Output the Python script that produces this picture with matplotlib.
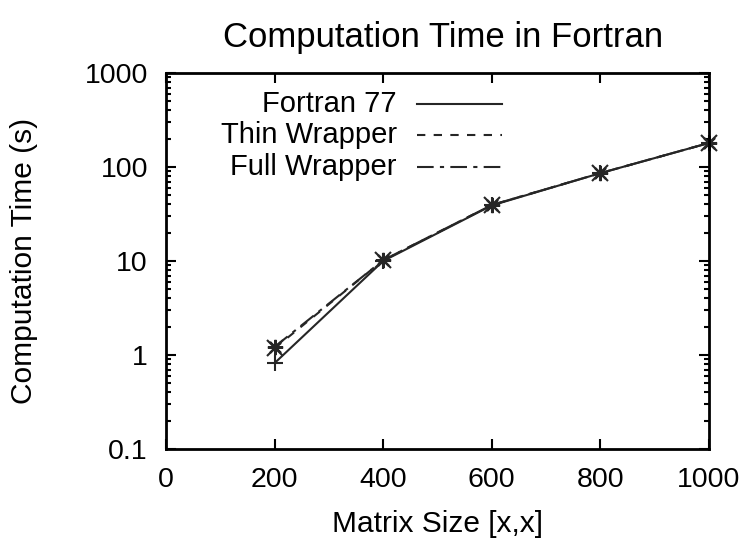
import matplotlib
matplotlib.use('Agg')
import matplotlib.pyplot as plt
from matplotlib.lines import Line2D
from matplotlib.ticker import LogLocator, FixedLocator, NullFormatter

plt.rcParams['font.family'] = ['Liberation Sans', 'DejaVu Sans']

# data
matrix_size = [200, 400, 600, 800, 1000]
fortran77 = [0.82, 10.0, 39.0, 86.0, 180.0]
thin_wrapper = [1.18, 10.2, 39.4, 86.0, 180.0]
full_wrapper = [1.22, 10.2, 39.4, 86.0, 180.0]

series_labels = ['Fortran 77', 'Thin Wrapper', 'Full Wrapper']
series_values = [fortran77, thin_wrapper, full_wrapper]
line_styles = ['-', (0, (4, 4)), (0, (8, 3, 2, 3))]
markers = ['+', 'x', (8, 2, 0)]

x_ticks = [0, 200, 400, 600, 800, 1000]
y_ticks = [0.1, 1, 10, 100, 1000]
y_tick_labels = ['0.1', '1', '10', '100', '1000']

line_color = '#262626'

fig = plt.figure(figsize=(7.4, 5.43), dpi=100)
ax = fig.add_axes([0.2243, 0.1731, 0.7338, 0.6925])

for vals, ls, mk in zip(series_values, line_styles, markers):
    ax.plot(matrix_size, vals, linestyle=ls, color=line_color, linewidth=1.5,
            marker=mk, markersize=11, markeredgewidth=1.5, clip_on=False)

ax.set_yscale('log')
ax.set_xlim(0, 1000)
ax.set_ylim(0.1, 1000)

ax.xaxis.set_major_locator(FixedLocator(x_ticks))
ax.set_xticklabels([str(t) for t in x_ticks])
ax.yaxis.set_major_locator(FixedLocator(y_ticks))
ax.set_yticklabels(y_tick_labels)
ax.yaxis.set_minor_locator(LogLocator(base=10, subs=range(2, 10)))
ax.yaxis.set_minor_formatter(NullFormatter())

ax.tick_params(which='both', direction='in', top=True, right=True, width=1.5)
ax.tick_params(which='major', length=7, labelsize=20.5, pad=13)
ax.tick_params(which='minor', length=3.5)
for s in ax.spines.values():
    s.set_linewidth(2)

ax.set_xlabel('Matrix Size [x,x]', fontsize=21.5, labelpad=12)
ax.set_ylabel('Computation Time (s)', fontsize=21.5)
ax.yaxis.set_label_coords(-0.235, 0.5)
ax.set_title('Computation Time in Fortran', fontsize=25, pad=19, x=0.51)

# gnuplot-style key: right-aligned text followed by a line sample
key_y = [0.918, 0.835, 0.750]
for label, ls, ky in zip(series_labels, line_styles, key_y):
    ax.text(0.425, ky, label, transform=ax.transAxes, ha='right', va='center',
            fontsize=21)
    ax.add_line(Line2D([0.462, 0.618], [ky, ky], transform=ax.transAxes,
                       color=line_color, linestyle=ls, linewidth=1.5))

fig.savefig('out.png', dpi=100)
